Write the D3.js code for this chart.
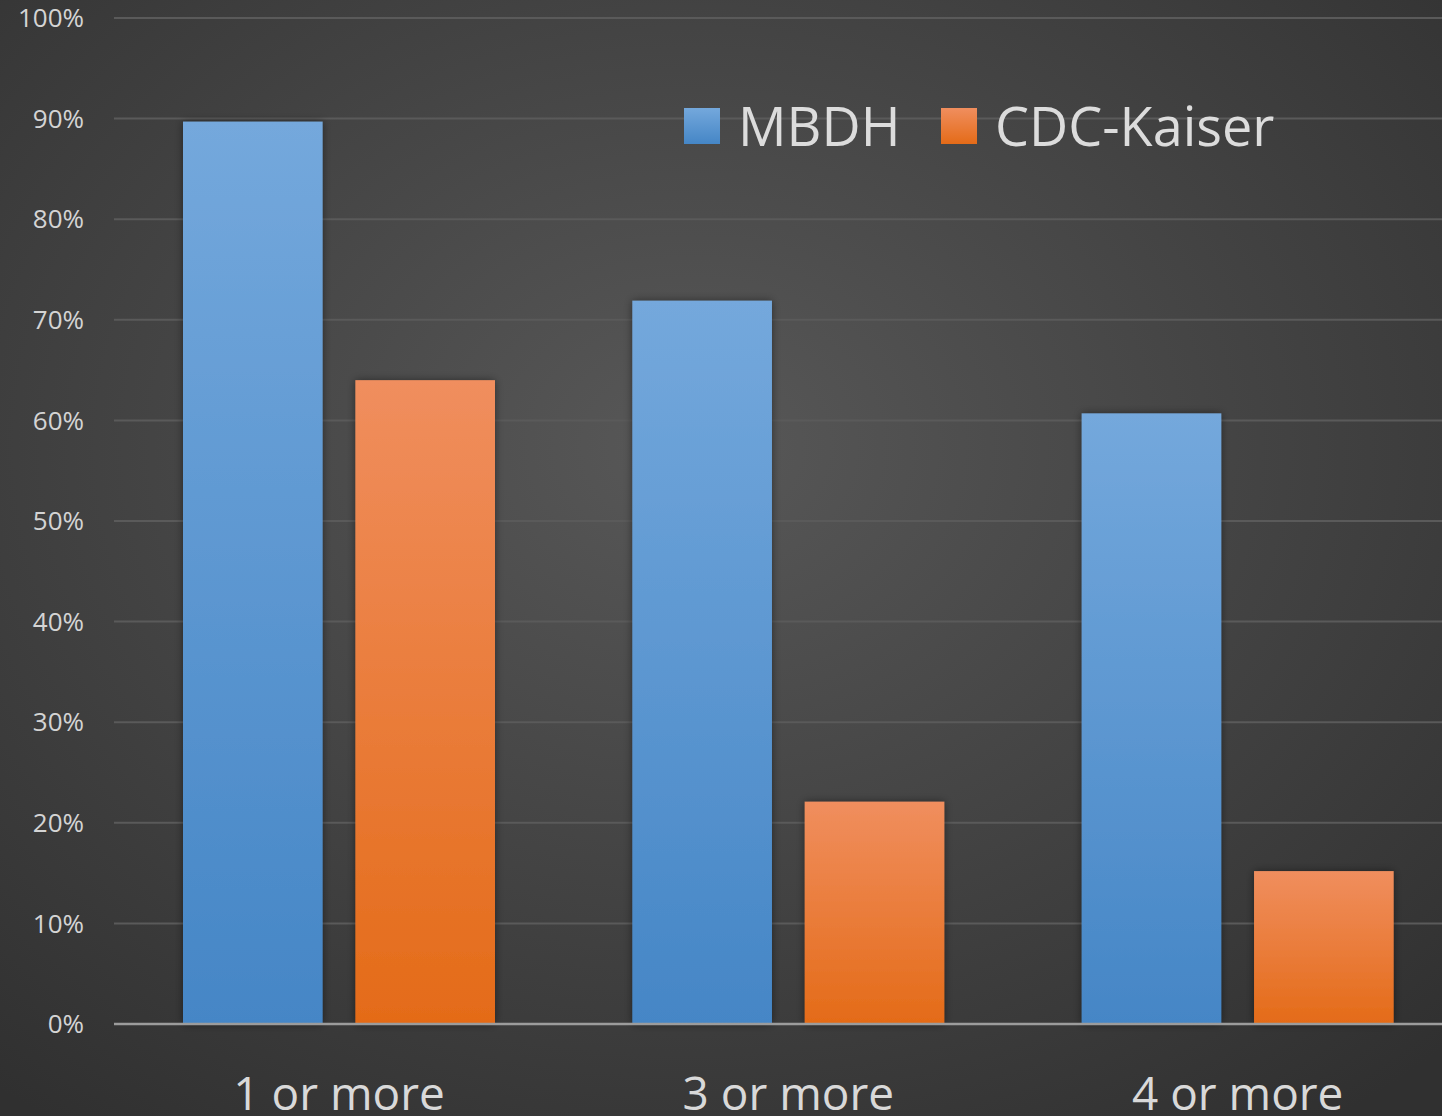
<!DOCTYPE html>
<html lang="en">
<head>
<meta charset="UTF-8">
<title>Chart</title>
<style>
  html, body { margin: 0; padding: 0; background: #3a3a3a; overflow: hidden; }
  svg { display: block; }
</style>
</head>
<body>
<svg id="chart"></svg>
<script src="https://cdn.jsdelivr.net/npm/d3@7"></script>
<script>
const categories = ['1 or more', '3 or more', '4 or more'];
const seriesNames = ['MBDH', 'CDC-Kaiser'];
const mbdh = [0.897, 0.719, 0.607];
const cdcKaiser = [0.640, 0.221, 0.152];
const yTicks = [0, 0.1, 0.2, 0.3, 0.4, 0.5, 0.6, 0.7, 0.8, 0.9, 1.0];

const W = 1442, H = 1116;
const svg = d3.select('#chart').attr('width', W).attr('height', H);
const defs = svg.append('defs');

// background
const bg = defs.append('radialGradient').attr('id', 'bg')
  .attr('cx', '48%').attr('cy', '40%').attr('r', '75%');
bg.append('stop').attr('offset', '0%').attr('stop-color', '#585858');
bg.append('stop').attr('offset', '100%').attr('stop-color', '#303030');
svg.append('rect').attr('width', W).attr('height', H).attr('fill', 'url(#bg)');

const grads = [['blueG', '#74a8dc', '#4586c6'], ['orangeG', '#f08e5e', '#e46b18']];
grads.forEach(([id, top, bot]) => {
  const g = defs.append('linearGradient').attr('id', id)
    .attr('x1', 0).attr('y1', 0).attr('x2', 0).attr('y2', 1);
  g.append('stop').attr('offset', '0%').attr('stop-color', top);
  g.append('stop').attr('offset', '100%').attr('stop-color', bot);
});
const sh = defs.append('filter').attr('id', 'shadow')
  .attr('x', '-20%').attr('y', '-5%').attr('width', '140%').attr('height', '110%');
sh.append('feDropShadow').attr('dx', 0).attr('dy', 0).attr('stdDeviation', 4)
  .attr('flood-color', '#000').attr('flood-opacity', 0.45);

const x0 = 114, x1 = 1462;
const y = d3.scaleLinear().domain([0, 1]).range([1024, 18]);
const x = d3.scaleBand().domain(categories).range([x0, x1]);
const xs = d3.scaleBand().domain(seriesNames).range([69, 381]).paddingInner(0.19);

// gridlines
svg.append('g').selectAll('line').data(yTicks.filter(d => d > 0)).join('line')
  .attr('x1', x0).attr('x2', W)
  .attr('y1', d => y(d)).attr('y2', d => y(d))
  .attr('stroke', '#5a5a5a').attr('stroke-width', 2);

// y tick labels
svg.append('g').selectAll('text').data(yTicks).join('text')
  .attr('x', 84).attr('y', d => y(d)).attr('dy', '0.35em')
  .attr('text-anchor', 'end')
  .attr('font-family', 'Open Sans, sans-serif').attr('font-size', 26)
  .attr('fill', '#d4d4d4')
  .text(d3.format('.0%'));

// bars
const data = [mbdh, cdcKaiser];
const groups = svg.append('g').selectAll('g').data(categories).join('g')
  .attr('transform', c => `translate(${x(c)},0)`);
groups.selectAll('rect')
  .data((c, i) => seriesNames.map((s, j) => ({ s, v: data[j][i], j })))
  .join('rect')
  .attr('x', d => xs(d.s)).attr('width', xs.bandwidth())
  .attr('y', d => y(d.v)).attr('height', d => y(0) - y(d.v))
  .attr('fill', d => d.j === 0 ? 'url(#blueG)' : 'url(#orangeG)')
  .attr('filter', 'url(#shadow)');

// baseline
svg.append('line').attr('x1', x0).attr('x2', W)
  .attr('y1', y(0)).attr('y2', y(0))
  .attr('stroke', '#9c9c9c').attr('stroke-width', 2.5);

// category labels (cut at the bottom edge, as in the reference)
svg.append('g').selectAll('text').data(categories).join('text')
  .attr('x', c => x(c) + 225).attr('y', 1110)
  .attr('text-anchor', 'middle')
  .attr('font-family', 'Open Sans, sans-serif').attr('font-size', 46)
  .attr('fill', '#d9d9d9')
  .text(d => d);

// legend
const legend = svg.append('g');
const legendX = [684, 941];
seriesNames.forEach((s, i) => {
  legend.append('rect').attr('x', legendX[i]).attr('y', 108)
    .attr('width', 36).attr('height', 36)
    .attr('fill', i === 0 ? 'url(#blueG)' : 'url(#orangeG)');
  legend.append('text').attr('x', legendX[i] + 54).attr('y', 146)
    .attr('font-family', 'Open Sans, sans-serif').attr('font-size', 54)
    .attr('fill', '#dcdcdc')
    .text(s);
});
</script>
</body>
</html>
